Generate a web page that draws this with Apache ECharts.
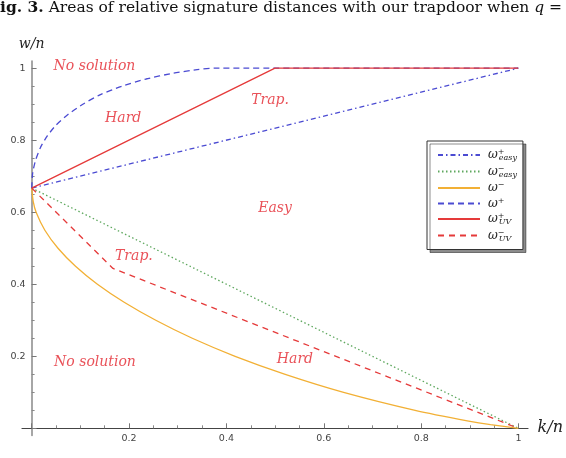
<!DOCTYPE html>
<html>
<head>
<meta charset="utf-8">
<script src="https://cdn.jsdelivr.net/npm/echarts@6/dist/echarts.min.js"></script>
<style>
  html, body { margin: 0; padding: 0; background: #fff; }
  #chart { width: 566px; height: 458px; }
</style>
</head>
<body>
<div id="chart"></div>
<script>
// curves, points are [k/n, w/n]
const omegaEasyPlus = [[0, 0.667], [1, 1]];
const omegaEasyMinus = [[0, 0.667], [1, 0]];
const omegaMinus = [
  [0, 0.667], [0.003, 0.63], [0.009, 0.6], [0.027, 0.55], [0.054, 0.5],
  [0.09, 0.45], [0.135, 0.4], [0.19, 0.35], [0.255, 0.3], [0.33, 0.25],
  [0.418, 0.2], [0.521, 0.15], [0.641, 0.1], [0.788, 0.05], [0.898, 0.02],
  [0.943, 0.01], [1, 0]
];
const omegaPlus = [
  [0, 0.667], [0.002, 0.71], [0.008, 0.745], [0.018, 0.78], [0.032, 0.812],
  [0.05, 0.842], [0.075, 0.872], [0.105, 0.9], [0.14, 0.926], [0.185, 0.95],
  [0.235, 0.97], [0.29, 0.986], [0.34, 0.996], [0.375, 1], [1, 1]
];
const omegaUVPlus = [[0, 0.667], [0.5, 1], [1, 1]];
const omegaUVMinus = [[0, 0.667], [0.167, 0.444], [1, 0]];

// region names and where they sit in the plot
const regionNames = ['No solution', 'Hard', 'Trap.', 'Easy', 'Trap.', 'No solution', 'Hard'];
const regionAt = [[0.129, 1.004], [0.188, 0.862], [0.49, 0.912], [0.5, 0.612], [0.21, 0.477], [0.13, 0.183], [0.541, 0.1925]];

const tickLabels = { 0.2: '0.2', 0.4: '0.4', 0.6: '0.6', 0.8: '0.8', 1: '1' };

const chart = echarts.init(document.getElementById('chart'));

const serif = 'DejaVu Serif';
const red = '#e3262e';

function curve(name, data, color, type) {
  return {
    name: name,
    type: 'line',
    xAxisIndex: 0,
    yAxisIndex: 0,
    data: data,
    symbol: 'none',
    silent: true,
    lineStyle: { color: color, width: 1.3, type: type },
    itemStyle: { color: color }
  };
}

const legendText = {
  'ω+ easy': '{w|ω}{sup|+}{sub|easy}',
  'ω− easy': '{w|ω}{sup|−}{sub|easy}',
  'ω−': '{w|ω}{supOnly|−}',
  'ω+': '{w|ω}{supOnly|+}',
  'ω+ UV': '{w|ω}{sup|+}{sub|UV}',
  'ω− UV': '{w|ω}{sup|−}{sub|UV}'
};

const plusCurve = curve('ω+', omegaPlus, '#4b4bd2', [6, 4]);
plusCurve.smooth = 0.2;
const minusCurve = curve('ω−', omegaMinus, '#f2b035', 'solid');
minusCurve.smooth = 0.2;

const option = {
  animation: false,
  title: {
    text: '{b|Fig. 3.} Areas of relative signature distances with our trapdoor when {i|q} =',
    left: -11,
    top: -1,
    padding: 0,
    textStyle: {
      fontFamily: serif, fontSize: 15.5, fontWeight: 'normal', color: '#111', lineHeight: 18,
      rich: {
        b: { fontFamily: serif, fontSize: 15.5, fontWeight: 'bold', color: '#111', lineHeight: 18 },
        i: { fontFamily: serif, fontSize: 15.5, fontStyle: 'italic', color: '#111', lineHeight: 18 }
      }
    }
  },
  legend: {
    orient: 'vertical',
    left: 427,
    top: 141,
    padding: [7, 6, 7, 10],
    itemWidth: 42,
    itemHeight: 14,
    itemGap: 2.5,
    selectedMode: false,
    backgroundColor: '#fff',
    borderColor: '#333',
    borderWidth: 1,
    shadowColor: 'rgba(0,0,0,0.45)',
    shadowBlur: 0,
    shadowOffsetX: 3,
    shadowOffsetY: 3,
    itemStyle: { opacity: 0 },
    data: ['ω+ easy', 'ω− easy', 'ω−', 'ω+', 'ω+ UV', 'ω− UV'],
    formatter: function (name) { return legendText[name]; },
    textStyle: {
      color: '#222',
      rich: {
        w: { fontFamily: serif, fontStyle: 'italic', fontSize: 12, lineHeight: 14, color: '#222', padding: [0, 0, 0, 3] },
        sup: { fontFamily: serif, fontSize: 8, lineHeight: 8, verticalAlign: 'top', width: 1, color: '#222' },
        supOnly: { fontFamily: serif, fontSize: 8, lineHeight: 8, verticalAlign: 'top', color: '#222' },
        sub: { fontFamily: serif, fontStyle: 'italic', fontSize: 8, lineHeight: 8, verticalAlign: 'bottom', color: '#222' }
      }
    }
  },
  grid: [
    { left: 22, top: 61, width: 506, height: 374.5 },
    { left: 31.6, top: 68.3, width: 487, height: 360 }
  ],
  xAxis: [
    {
      type: 'value', gridIndex: 0, min: -0.02, max: 1.02,
      axisLine: { onZero: true, lineStyle: { color: '#444', width: 1.2 } },
      axisTick: { show: false }, axisLabel: { show: false }, splitLine: { show: false }
    },
    {
      type: 'value', gridIndex: 1, min: 0, max: 1, interval: 0.2,
      name: 'k/n', nameLocation: 'end', nameGap: 19,
      nameTextStyle: { fontFamily: serif, fontStyle: 'italic', fontSize: 16, color: '#222', padding: [0, 0, 11, 0] },
      axisLine: { show: false },
      axisTick: { inside: true, length: 5, lineStyle: { color: '#777' } },
      minorTick: { show: true, splitNumber: 4, length: 3, lineStyle: { color: '#888' } },
      axisLabel: {
        margin: 5, fontFamily: 'DejaVu Sans', fontSize: 9.5, color: '#444',
        formatter: function (v) { return tickLabels[+v.toFixed(1)] || ''; }
      },
      splitLine: { show: false }
    }
  ],
  yAxis: [
    {
      type: 'value', gridIndex: 0, min: -0.02, max: 1.02,
      axisLine: { show: true, onZero: true, lineStyle: { color: '#888', width: 1.5 } },
      axisTick: { show: false }, axisLabel: { show: false }, splitLine: { show: false }
    },
    {
      type: 'value', gridIndex: 1, min: 0, max: 1, interval: 0.2,
      name: 'w/n', nameLocation: 'end', nameGap: 17,
      nameTextStyle: { fontFamily: serif, fontStyle: 'italic', fontSize: 14, color: '#222', align: 'center' },
      axisLine: { show: false },
      axisTick: { inside: true, length: 5, lineStyle: { color: '#777' } },
      minorTick: { show: true, splitNumber: 4, length: 3, lineStyle: { color: '#888' } },
      axisLabel: {
        margin: 6, fontFamily: 'DejaVu Sans', fontSize: 9.5, color: '#444',
        formatter: function (v) { return tickLabels[+v.toFixed(1)] || ''; }
      },
      splitLine: { show: false }
    }
  ],
  series: [
    curve('ω+ easy', omegaEasyPlus, '#4b4bd2', [5, 3, 1.5, 3]),
    curve('ω− easy', omegaEasyMinus, '#5fa85f', [1.5, 2.5]),
    minusCurve,
    plusCurve,
    curve('ω− UV', omegaUVMinus, '#e53a3a', [6, 5]),
    curve('ω+ UV', omegaUVPlus, '#e53a3a', 'solid'),
    {
      type: 'scatter',
      xAxisIndex: 0,
      yAxisIndex: 0,
      silent: true,
      symbolSize: 1,
      itemStyle: { color: 'rgba(0,0,0,0)' },
      data: regionNames.map(function (n, i) { return { name: n, value: regionAt[i] }; }),
      label: {
        show: true,
        position: 'inside',
        formatter: '{b}',
        fontFamily: serif,
        fontStyle: 'italic',
        fontSize: 14,
        color: red
      }
    }
  ]
};

chart.setOption(option);
</script>
</body>
</html>
